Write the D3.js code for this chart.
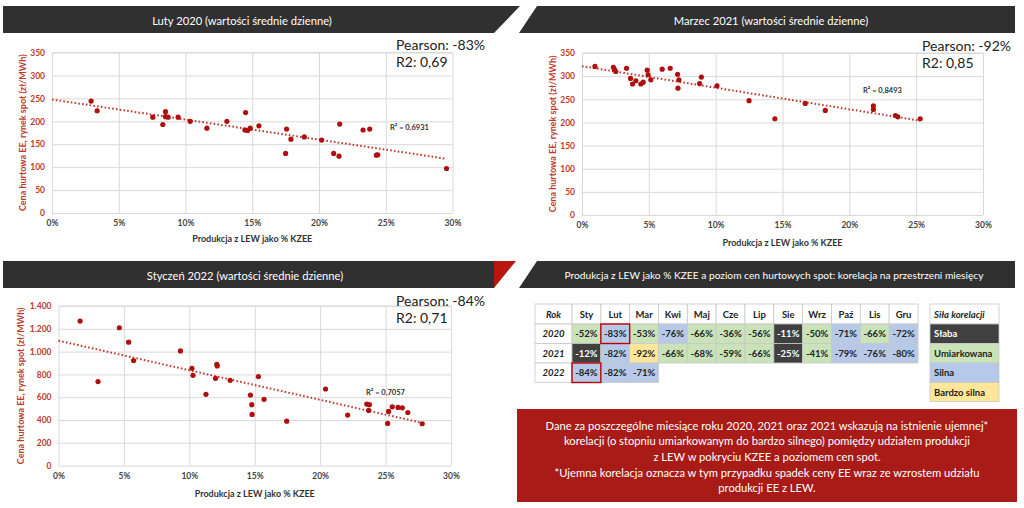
<!DOCTYPE html>
<html>
<head>
<meta charset="utf-8">
<script src="https://cdn.jsdelivr.net/npm/d3@7"></script>
<style>
  body { margin: 0; background: #fff; }
  svg { display: block; font-family: Lato, "Open Sans", sans-serif; }
</style>
</head>
<body>
<svg id="page" width="1024" height="508"></svg>
<script>
// ---- data: [udział LEW w %, cena zł/MWh] ----
const lutyPoints = [
  [2.93, 244], [3.38, 223], [7.55, 209], [8.3, 193], [8.5, 221], [8.5, 210],
  [8.7, 209], [9.45, 209], [10.35, 200], [11.6, 185], [13.1, 200], [14.5, 219],
  [14.45, 181], [14.65, 180], [14.85, 185], [15.5, 190], [17.57, 183], [17.5, 130],
  [17.9, 161], [18.9, 166], [20.2, 159], [21.55, 194], [21.1, 130], [21.5, 124],
  [23.3, 181], [23.8, 183], [24.3, 126], [24.4, 127], [29.55, 97]
];
const marzecPoints = [
  [0.97, 321], [2.35, 319], [2.43, 314], [2.53, 310], [3.33, 317], [3.63, 295],
  [3.78, 283], [4.03, 290], [4.4, 283], [4.58, 287], [4.88, 313], [4.95, 303],
  [5.15, 292], [6.0, 315], [6.6, 317], [7.15, 304], [7.25, 292], [7.18, 274],
  [8.8, 284], [8.93, 298], [10.1, 279], [12.5, 247], [14.43, 208], [16.7, 241],
  [18.2, 226], [21.8, 236], [21.8, 228], [23.45, 215], [23.63, 212], [25.3, 208]
];
const styczenPoints = [
  [1.65, 1268], [3.02, 737], [4.65, 1209], [5.36, 1083], [5.74, 921], [9.32, 1006],
  [10.2, 854], [10.28, 792], [11.27, 625], [12.0, 766], [12.1, 889], [12.13, 874],
  [13.12, 748], [14.67, 619], [14.77, 534], [14.8, 449], [15.28, 781], [15.71, 581],
  [17.44, 390], [20.41, 672], [22.1, 443], [23.56, 540], [23.76, 534], [23.71, 484],
  [25.16, 370], [25.23, 475], [25.51, 516], [25.95, 510], [26.28, 507], [26.7, 466],
  [27.8, 367]
];

const chartTitles = [
  "Luty 2020 (wartości średnie dzienne)",
  "Marzec 2021 (wartości średnie dzienne)",
  "Styczeń 2022 (wartości średnie dzienne)",
  "Produkcja z LEW jako % KZEE a poziom cen hurtowych spot: korelacja na przestrzeni miesięcy"
];
const pearsonLabels = ["Pearson: -83%", "Pearson: -92%", "Pearson: -84%"];
const r2Labels = ["R2: 0,69", "R2: 0,85", "R2: 0,71"];
const trendLabels = ["R² = 0,6931", "R² = 0,8493", "R² = 0,7057"];
const xTicks = [0, 5, 10, 15, 20, 25, 30];
const yTicksSmall = [0, 50, 100, 150, 200, 250, 300, 350];
const yTicksBig = [0, 200, 400, 600, 800, 1000, 1200, 1400];

const months = ["Sty", "Lut", "Mar", "Kwi", "Maj", "Cze", "Lip", "Sie", "Wrz", "Paź", "Lis", "Gru"];
const years = ["2020", "2021", "2022"];
const corr2020 = [-52, -83, -53, -76, -66, -36, -56, -11, -50, -71, -66, -72];
const corr2021 = [-12, -82, -92, -66, -68, -59, -66, -25, -41, -79, -76, -80];
const corr2022 = [-84, -82, -71];
const strengthNames = ["Słaba", "Umiarkowana", "Silna", "Bardzo silna"];

const noteLines = [
  "Dane za poszczególne miesiące roku 2020, 2021 oraz 2021 wskazują na istnienie ujemnej*",
  "korelacji (o stopniu umiarkowanym do bardzo silnego) pomiędzy udziałem produkcji",
  "z LEW w pokryciu KZEE a poziomem cen spot.",
  "*Ujemna korelacja oznacza w tym przypadku spadek ceny EE wraz ze wzrostem udziału",
  "produkcji EE z LEW."
];

// ---- styles ----
const barColor = "#303030";
const darkRed = "#b00f0f";
const axisRed = "#c0392b";
const gridColor = "#d9d9d9";
const strengthColors = ["#404040", "#c9e2b8", "#b7c9e8", "#ffe699"];

const plLocale = d3.formatLocale({ decimal: ",", thousands: ".", grouping: [3], currency: ["", " zł"] });

let svg = d3.select("#page");

// title bars
const bars = [
  { pts: [[3, 6], [520, 6], [494, 33], [3, 33]], cx: 242, cy: 20, size: 11.2 },
  { pts: [[537, 6], [1015, 6], [1015, 33], [519, 33]], cx: 771, cy: 20, size: 11.2 },
  { pts: [[3, 261], [494, 261], [494, 288], [3, 288]], cx: 245, cy: 275, size: 11.2 },
  { pts: [[537, 261], [1015, 261], [1015, 288], [519, 288]], cx: 774, cy: 275, size: 10.2 }
];
bars.forEach((b, i) => {
  svg.append("polygon")
    .attr("points", b.pts.map(p => p.join(",")).join(" "))
    .attr("fill", barColor);
  svg.append("text")
    .attr("x", b.cx).attr("y", b.cy)
    .attr("text-anchor", "middle").attr("dominant-baseline", "central")
    .attr("fill", "#fff").attr("font-size", b.size)
    .text(chartTitles[i]);
});
// red accent next to the third bar
svg.append("polygon")
  .attr("points", "494,261 516,261 494,288")
  .attr("fill", "#b8160f");

/**
 * Draws one scatter panel with gridlines, points and a dotted trend line.
 */
function drawScatter(cfg) {
  let g = svg.append("g");
  let x = d3.scaleLinear().domain([0, 30]).range([cfg.left, cfg.right]);
  let y = d3.scaleLinear().domain([0, cfg.yTicks[cfg.yTicks.length - 1]]).range([cfg.bottom, cfg.top]);

  let xAxis = g.append("g")
    .attr("transform", `translate(0,${cfg.bottom})`)
    .call(d3.axisBottom(x).tickValues(xTicks).tickSize(-(cfg.bottom - cfg.top)).tickPadding(7).tickFormat(d => d + "%"));
  let yAxis = g.append("g")
    .attr("transform", `translate(${cfg.left},0)`)
    .call(d3.axisLeft(y).tickValues(cfg.yTicks).tickSize(-(cfg.right - cfg.left)).tickPadding(7).tickFormat(cfg.yFormat));

  [xAxis, yAxis].forEach(a => {
    a.select(".domain").remove();
    a.selectAll(".tick line").attr("stroke", gridColor).attr("stroke-width", 1);
    a.selectAll(".tick text").attr("font-family", "Lato, sans-serif").attr("font-weight", "bold").attr("font-size", 8.5);
  });
  xAxis.selectAll(".tick text").attr("fill", "#444");
  yAxis.selectAll(".tick text").attr("fill", axisRed);
  // top border of the plot area
  g.append("line")
    .attr("x1", cfg.left).attr("x2", cfg.right)
    .attr("y1", cfg.top).attr("y2", cfg.top)
    .attr("stroke", gridColor);

  // least squares trend line, drawn from 0 to the last point
  let mx = d3.mean(cfg.points, d => d[0]);
  let my = d3.mean(cfg.points, d => d[1]);
  let sxy = d3.sum(cfg.points, d => (d[0] - mx) * (d[1] - my));
  let sxx = d3.sum(cfg.points, d => (d[0] - mx) * (d[0] - mx));
  let slope = sxy / sxx;
  let icpt = my - slope * mx;
  let xEnd = d3.max(cfg.points, d => d[0]);
  g.append("line")
    .attr("x1", x(0)).attr("y1", y(icpt))
    .attr("x2", x(xEnd)).attr("y2", y(icpt + slope * xEnd))
    .attr("stroke", "#c0392b").attr("stroke-width", 2)
    .attr("stroke-dasharray", "1.6,2.2");

  g.selectAll("circle.pt")
    .data(cfg.points)
    .enter().append("circle")
    .attr("class", "pt")
    .attr("cx", d => x(d[0]))
    .attr("cy", d => y(d[1]))
    .attr("r", 2.6)
    .attr("fill", darkRed);

  g.append("text")
    .attr("x", cfg.trendX).attr("y", cfg.trendY)
    .attr("dominant-baseline", "central")
    .attr("font-size", 7.5).attr("font-weight", "bold").attr("fill", "#333")
    .text(trendLabels[cfg.idx]);

  g.append("text")
    .attr("x", (cfg.left + cfg.right) / 2).attr("y", cfg.xTitleY)
    .attr("text-anchor", "middle").attr("dominant-baseline", "central")
    .attr("font-size", 9).attr("font-weight", "bold").attr("fill", "#333")
    .text("Produkcja z LEW jako % KZEE");

  g.append("text")
    .attr("transform", `translate(${cfg.yTitleX},${(cfg.top + cfg.bottom) / 2}) rotate(-90)`)
    .attr("text-anchor", "middle").attr("dominant-baseline", "central")
    .attr("font-size", 9).attr("font-weight", "bold").attr("fill", axisRed)
    .text("Cena hurtowa EE, rynek spot (zł/MWh)");

  g.append("text")
    .attr("x", cfg.pearsonX).attr("y", cfg.pearsonY)
    .attr("dominant-baseline", "central")
    .attr("font-size", 14).attr("fill", "#222")
    .text(pearsonLabels[cfg.idx]);
  g.append("text")
    .attr("x", cfg.pearsonX).attr("y", cfg.pearsonY + 17)
    .attr("dominant-baseline", "central")
    .attr("font-size", 14).attr("fill", "#222")
    .text(r2Labels[cfg.idx]);
}

drawScatter({
  idx: 0, points: lutyPoints, yTicks: yTicksSmall, yFormat: plLocale.format(","),
  left: 52, right: 452.5, top: 52.5, bottom: 213,
  trendX: 390, trendY: 127, xTitleY: 238, yTitleX: 22,
  pearsonX: 396, pearsonY: 44
});
drawScatter({
  idx: 1, points: marzecPoints, yTicks: yTicksSmall, yFormat: plLocale.format(","),
  left: 582, right: 983, top: 53, bottom: 215,
  trendX: 863, trendY: 90, xTitleY: 242, yTitleX: 552,
  pearsonX: 922, pearsonY: 45
});
drawScatter({
  idx: 2, points: styczenPoints, yTicks: yTicksBig, yFormat: plLocale.format(","),
  left: 58.5, right: 451, top: 306, bottom: 465.6,
  trendX: 366, trendY: 392, xTitleY: 493, yTitleX: 20,
  pearsonX: 396, pearsonY: 300
});

// ---- correlation table ----
function strengthOf(v) {
  let a = Math.abs(v);
  if (a < 30) return 0;
  if (a <= 70) return 1;
  if (a < 90) return 2;
  return 3;
}
const tLeft = 535, rokW = 37, monW = (918 - 572) / 12;
const rowTops = [304, 324, 343.5, 363, 382.5];
const tableRows = [corr2020, corr2021, corr2022];
let table = svg.append("g").attr("font-size", 9.5).attr("font-weight", "bold");

function cell(x0, y0, w, h, fill, label, color, italic, anchor) {
  table.append("rect")
    .attr("x", x0).attr("y", y0).attr("width", w).attr("height", h)
    .attr("fill", fill).attr("stroke", "#c8c8c8").attr("stroke-width", 0.8);
  table.append("text")
    .attr("x", anchor === "start" ? x0 + 4 : x0 + w / 2).attr("y", y0 + h / 2)
    .attr("text-anchor", anchor || "middle").attr("dominant-baseline", "central")
    .attr("fill", color).attr("font-style", italic ? "italic" : "normal")
    .text(label);
}

cell(tLeft, rowTops[0], rokW, rowTops[1] - rowTops[0], "#fff", "Rok", "#222", true);
months.forEach((m, i) => cell(tLeft + rokW + i * monW, rowTops[0], monW, rowTops[1] - rowTops[0], "#fff", m, "#222", false));
tableRows.forEach((row, r) => {
  let y0 = rowTops[r + 1], h = rowTops[r + 2] - y0;
  cell(tLeft, y0, rokW, h, "#fff", years[r], "#222", true);
  row.forEach((v, i) => {
    let s = strengthOf(v);
    cell(tLeft + rokW + i * monW, y0, monW, h, strengthColors[s], v + "%", s === 0 ? "#fff" : "#222", false);
  });
});
// highlighted cells (months shown in the scatter panels)
[[0, 1], [2, 0]].forEach(([r, c]) => {
  table.append("rect")
    .attr("x", tLeft + rokW + c * monW).attr("y", rowTops[r + 1])
    .attr("width", monW).attr("height", rowTops[r + 2] - rowTops[r + 1])
    .attr("fill", "none").attr("stroke", "#c00000").attr("stroke-width", 1.4);
});

// legend table
const lgLeft = 930, lgW = 69;
const lgTops = [304, 324, 343.5, 363, 382.5, 401.5];
cell(lgLeft, lgTops[0], lgW, lgTops[1] - lgTops[0], "#fff", "Siła korelacji", "#222", true, "start");
strengthNames.forEach((n, i) => {
  cell(lgLeft, lgTops[i + 1], lgW, lgTops[i + 2] - lgTops[i + 1], strengthColors[i], n, i === 0 ? "#fff" : "#222", false, "start");
});

// ---- note box ----
svg.append("rect")
  .attr("x", 517).attr("y", 409).attr("width", 500).attr("height", 93)
  .attr("fill", "#a81b17");
svg.append("g").selectAll("text")
  .data(noteLines)
  .enter().append("text")
  .attr("x", 767)
  .attr("y", (d, i) => 425 + i * 15.7)
  .attr("text-anchor", "middle").attr("dominant-baseline", "central")
  .attr("fill", "#fff").attr("font-size", 11.2)
  .text(d => d);
</script>
</body>
</html>
